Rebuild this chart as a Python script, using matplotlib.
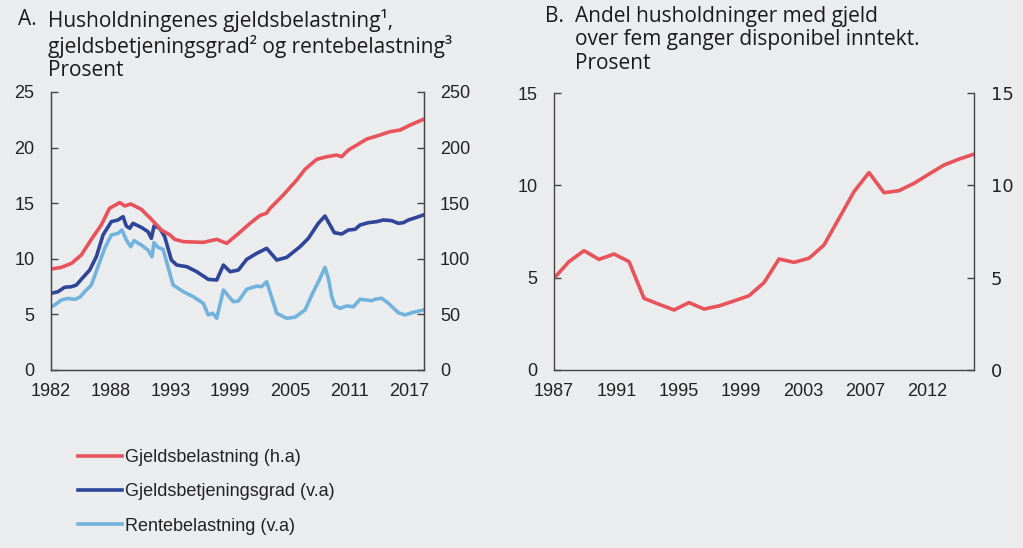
import matplotlib
matplotlib.use("Agg")
import matplotlib.pyplot as plt
from matplotlib.lines import Line2D

# ---------------- Data ----------------
# Panel A: Gjeldsbelastning (right axis, percent)
debt_x = [1982.0, 1983.0, 1984.0, 1984.95, 1985.93, 1986.9, 1987.7, 1988.7, 1989.2, 1989.77,
          1990.8, 1991.78, 1992.75, 1993.6, 1994.05, 1994.9, 1996.84, 1998.15, 1999.12, 2000.1,
          2001.4, 2002.37, 2003.0, 2003.35, 2004.64, 2005.95, 2006.76, 2007.9, 2008.87, 2009.84,
          2010.33, 2010.98, 2011.8, 2012.77, 2013.74, 2015.04, 2016.02, 2017.0, 2018.29]
debt_y = [90.8, 92.3, 95.9, 103.4, 117.5, 130.4, 145.4, 150.5, 147.5, 149.3,
          144.5, 135.5, 125.9, 121.4, 117.5, 115.4, 114.8, 117.5, 113.9, 121.4,
          131.9, 139.0, 141.0, 145.4, 157.4, 170.9, 180.5, 189.5, 191.8, 193.3,
          191.8, 197.8, 202.3, 207.7, 210.4, 214.3, 215.8, 220.3, 225.4]

# Panel A: Gjeldsbetjeningsgrad (left axis, percent)
service_x = [1982.0, 1982.68, 1983.33, 1983.98, 1984.47, 1984.95, 1985.77, 1986.42, 1987.07, 1987.88,
             1988.53, 1989.02, 1989.34, 1989.67, 1989.99, 1990.8, 1991.45, 1991.78, 1992.04, 1992.6,
             1993.08, 1993.73, 1994.25, 1995.23, 1996.2, 1997.33, 1998.15, 1998.8, 1999.45, 2000.26,
             2001.07, 2002.05, 2003.02, 2004.0, 2004.97, 2006.27, 2007.08, 2008.05, 2008.7, 2009.19,
             2009.61, 2010.33, 2010.98, 2011.63, 2012.12, 2012.93, 2013.74, 2014.39, 2015.2, 2015.85,
             2016.34, 2016.83, 2017.64, 2018.29]
service_y = [6.89, 7.04, 7.44, 7.49, 7.64, 8.15, 8.99, 10.19, 12.14, 13.34,
             13.49, 13.79, 12.95, 12.74, 13.19, 12.83, 12.44, 11.84, 12.95, 12.74,
             11.99, 9.89, 9.44, 9.29, 8.84, 8.15, 8.09, 9.44, 8.84, 8.99,
             9.95, 10.49, 10.94, 9.89, 10.13, 11.09, 11.84, 13.19, 13.85, 13.04,
             12.35, 12.23, 12.59, 12.65, 13.04, 13.25, 13.34, 13.49, 13.43, 13.19,
             13.25, 13.49, 13.73, 13.94]

# Panel A: Rentebelastning (left axis, percent)
interest_x = [1982.0, 1982.36, 1983.0, 1983.66, 1984.3, 1984.8, 1985.28, 1985.93, 1986.58, 1987.23,
              1987.88, 1988.53, 1988.92, 1989.34, 1989.77, 1990.09, 1990.8, 1991.45, 1991.84, 1992.04,
              1992.43, 1992.92, 1993.4, 1993.9, 1994.38, 1994.9, 1995.87, 1996.84, 1997.33, 1997.76,
              1998.15, 1998.8, 1999.77, 2000.26, 2001.07, 2002.05, 2002.53, 2003.02, 2004.0, 2004.97,
              2005.78, 2006.76, 2007.41, 2008.22, 2008.7, 2009.03, 2009.36, 2009.68, 2010.17, 2010.82,
              2011.47, 2012.12, 2012.77, 2013.26, 2013.58, 2014.23, 2014.88, 2015.85, 2016.5, 2017.16,
              2018.29]
interest_y = [5.69, 5.85, 6.29, 6.44, 6.35, 6.54, 7.04, 7.64, 9.29, 10.94,
              12.14, 12.29, 12.59, 11.69, 11.09, 11.63, 11.24, 10.79, 10.19, 11.45,
              11.03, 10.85, 9.29, 7.64, 7.35, 7.04, 6.59, 6.0, 4.95, 5.10,
              4.65, 7.19, 6.14, 6.20, 7.26, 7.55, 7.49, 7.94, 5.10, 4.65,
              4.75, 5.40, 6.74, 8.24, 9.23, 8.24, 6.59, 5.76, 5.55, 5.76,
              5.69, 6.36, 6.29, 6.23, 6.36, 6.45, 6.0, 5.15, 4.95, 5.15,
              5.40]

a_tick_pos = [1982.0, 1987.82, 1993.64, 1999.46, 2005.28, 2011.1, 2016.92]
a_tick_labels = ["1982", "1988", "1993", "1999", "2005", "2011", "2017"]

# Panel B: Andel husholdninger med gjeld over fem ganger disponibel inntekt
b_years = list(range(1987, 2016))
b_share = [4.97, 5.87, 6.46, 5.99, 6.28, 5.87, 3.88, 3.56, 3.25, 3.65,
           3.30, 3.47, 3.74, 4.02, 4.73, 6.01, 5.83, 6.05, 6.77, 8.21,
           9.66, 10.69, 9.60, 9.71, 10.11, 10.61, 11.10, 11.42, 11.69]
b_tick_pos = [1987.0, 1991.15, 1995.3, 1999.45, 2003.6, 2007.75, 2011.9]
b_tick_labels = ["1987", "1991", "1995", "1999", "2003", "2007", "2012"]

labels = ["Gjeldsbelastning (h.a)", "Gjeldsbetjeningsgrad (v.a)", "Rentebelastning (v.a)"]

# ---------------- Style ----------------
BG = "#EBECEE"
RED = "#E8535B"
DARK = "#2E4599"
LIGHT = "#72B3DD"
SPINE = "#444444"
TXT = "#222222"
TICKFONT = "Liberation Sans"
TITLEFONT = "Open Sans"
LW = 2.6

W, H = 1023, 548
fig = plt.figure(figsize=(W / 100, H / 100), dpi=100, facecolor=BG)


def box(x0, y0, x1, y1):
    return [x0 / W, 1 - y1 / H, (x1 - x0) / W, (y1 - y0) / H]


def style(ax, pad_l=12):
    ax.set_facecolor(BG)
    ax.spines["top"].set_visible(False)
    for s in ["left", "right", "bottom"]:
        ax.spines[s].set_color(SPINE)
        ax.spines[s].set_linewidth(1.0)
    ax.tick_params(axis="y", direction="in", length=5, width=1, color=SPINE,
                   labelsize=13, labelcolor=TXT, pad=pad_l)
    ax.tick_params(axis="x", length=0, labelsize=13, labelcolor=TXT, pad=9)
    for lab in ax.get_xticklabels() + ax.get_yticklabels():
        lab.set_fontfamily(TICKFONT)


# ---------------- Panel A ----------------
axA = fig.add_axes(box(51, 92, 424, 370))
axA.plot(service_x, service_y, color=DARK, lw=LW, solid_joinstyle="round")
axA.plot(interest_x, interest_y, color=LIGHT, lw=LW, solid_joinstyle="round")
axA.set_ylim(0, 25)
axA.set_yticks([0, 5, 10, 15, 20, 25])
axA.set_xlim(1982, 2018.35)
axA.set_xticks(a_tick_pos)
axA.set_xticklabels(a_tick_labels)
style(axA)
axA.tick_params(axis="y", right=False)

axA2 = axA.twinx()
axA2.plot(debt_x, debt_y, color=RED, lw=LW, solid_joinstyle="round")
axA2.set_ylim(0, 250)
axA2.set_yticks([0, 50, 100, 150, 200, 250])
axA2.spines["top"].set_visible(False)
for s in ["left", "right", "bottom"]:
    axA2.spines[s].set_color(SPINE)
axA2.tick_params(axis="y", direction="in", length=5, width=1, color=SPINE,
                 labelsize=13, labelcolor=TXT, pad=11.5)
for lab in axA2.get_yticklabels():
    lab.set_fontfamily(TICKFONT)

# ---------------- Panel B ----------------
axB = fig.add_axes(box(554, 93, 974, 370))
axB.plot(b_years, b_share, color=RED, lw=LW, solid_joinstyle="round")
axB.set_ylim(0, 15)
axB.set_yticks([0, 5, 10, 15])
axB.set_xlim(1987, 2015)
axB.set_xticks(b_tick_pos)
axB.set_xticklabels(b_tick_labels)
style(axB)
axB.tick_params(axis="y", right=True, labelright=True)

# ---------------- Titles ----------------
tkw = dict(fontfamily=TITLEFONT, fontsize=15, color="#1a1a1a", va="top", ha="left",
           linespacing=1.15)
fig.text(18 / W, 1 - 9 / H, "A.", **tkw)
fig.text(48 / W, 1 - 9 / H,
         "Husholdningenes gjeldsbelastning\u00b9,\ngjeldsbetjeningsgrad\u00b2 og rentebelastning\u00b3\nProsent",
         **tkw)
fig.text(545 / W, 1 - 6 / H, "B.", **tkw)
fig.text(575 / W, 1 - 6 / H,
         "Andel husholdninger med gjeld\nover fem ganger disponibel inntekt.\nProsent",
         **tkw)

# ---------------- Legend ----------------
handles = [Line2D([], [], color=c, lw=LW) for c in (RED, DARK, LIGHT)]
leg = fig.legend(handles, labels, loc="upper left", bbox_to_anchor=(62 / W, 1 - 433 / H),
                 frameon=False, handlelength=2.4, handletextpad=0.2, labelspacing=0.95,
                 prop={"family": TICKFONT, "size": 13})
for t in leg.get_texts():
    t.set_color(TXT)

fig.savefig("out.png", dpi=100, facecolor=BG)
